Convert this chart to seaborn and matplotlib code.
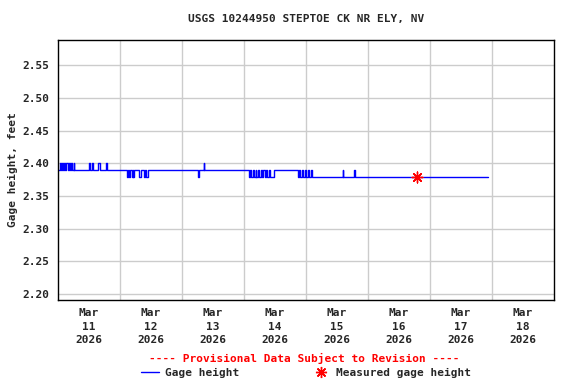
import seaborn as sns
import matplotlib.pyplot as plt
import matplotlib.lines as mlines
import pandas as pd

# gage height readings, hours after 2026-03-11 00:00 (value holds until next change)
hours = [0, 0.8, 1.2, 1.5, 2.0, 2.3, 2.7, 3.1, 3.8, 4.1, 4.6, 5.0, 5.4, 6.0, 6.3,
         12.0, 12.5, 13.0, 13.5, 15.5, 16.3, 18.5, 18.8,
         26.7, 27.0, 27.5, 27.9, 28.6, 28.9, 29.2, 29.5, 31.4, 32.0,
         33.3, 33.7, 34.0, 34.8, 54.1, 54.4, 56.4, 56.7,
         73.9, 74.5, 74.8, 75.5, 75.8, 76.5, 76.8, 77.6, 77.9, 78.6, 79.0,
         79.5, 80.0, 80.5, 81.0, 81.6, 82.0, 83.6,
         92.9, 93.4, 93.8, 94.6, 95.0, 95.6, 96.0, 96.8, 97.2, 97.8, 98.3,
         110.2, 110.5, 114.5, 114.8, 166.3]
height = [2.39, 2.40, 2.39, 2.40, 2.39, 2.40, 2.39, 2.40, 2.39, 2.40, 2.39, 2.40, 2.39, 2.40, 2.39,
          2.40, 2.39, 2.40, 2.39, 2.40, 2.39, 2.40, 2.39,
          2.38, 2.39, 2.38, 2.39, 2.38, 2.39, 2.38, 2.39, 2.38, 2.39,
          2.38, 2.39, 2.38, 2.39, 2.38, 2.39, 2.40, 2.39,
          2.38, 2.39, 2.38, 2.39, 2.38, 2.39, 2.38, 2.39, 2.38, 2.39, 2.38,
          2.39, 2.38, 2.39, 2.38, 2.39, 2.38, 2.39,
          2.38, 2.39, 2.38, 2.39, 2.38, 2.39, 2.38, 2.39, 2.38, 2.39, 2.38,
          2.39, 2.38, 2.39, 2.38, 2.38]

measured_hours = [138.8]
measured_height = [2.38]

day_labels = ['Mar\n11\n2026', 'Mar\n12\n2026', 'Mar\n13\n2026', 'Mar\n14\n2026',
              'Mar\n15\n2026', 'Mar\n16\n2026', 'Mar\n17\n2026', 'Mar\n18\n2026']
y_ticks = [2.20, 2.25, 2.30, 2.35, 2.40, 2.45, 2.50, 2.55]

df = pd.DataFrame({'day': [h / 24 for h in hours], 'gage': height})

sns.set_style('white')
plt.rcParams['font.family'] = ['DejaVu Sans Mono']
plt.rcParams['font.weight'] = 'bold'

fig = plt.figure(figsize=(5.76, 3.84), dpi=100)
ax = fig.add_axes([58 / 576, 1 - 300 / 384, 496 / 576, 260 / 384])

sns.lineplot(data=df, x='day', y='gage', ax=ax, color='#0000ff', linewidth=1,
             drawstyle='steps-post')
ax.scatter([h / 24 for h in measured_hours], measured_height, marker=(8, 2, 0),
           s=60, color='red', linewidths=1, zorder=5)

ax.set_xlim(0, 8)
ax.set_ylim(2.191, 2.589)
ax.set_xticks(range(1, 8))
ax.set_xticks([i + 0.5 for i in range(8)], minor=True)
ax.set_xticklabels([])
ax.set_xticklabels(day_labels, minor=True, fontsize=8, fontweight='bold', linespacing=1.4)
ax.set_yticks(y_ticks)
ax.set_yticklabels(['%.2f' % v for v in y_ticks], fontsize=8, fontweight='bold')
ax.tick_params(axis='both', which='both', length=0, pad=6)
ax.grid(True, which='major', color='#cccccc', linewidth=1)
ax.set_axisbelow(True)
for s in ax.spines.values():
    s.set_color('black')
    s.set_linewidth(1)

ax.set_xlabel('')
ax.set_ylabel('Gage height, feet', fontsize=8, fontweight='bold', labelpad=3)
fig.text(306 / 576, 1 - 19 / 384, 'USGS 10244950 STEPTOE CK NR ELY, NV', ha='center',
         va='center', fontsize=8, fontweight='bold')
fig.text(304 / 576, 1 - 358 / 384, '---- Provisional Data Subject to Revision ----',
         ha='center', va='center', fontsize=8, fontweight='bold', color='red')

h1 = mlines.Line2D([], [], color='#0000ff', linewidth=1)
h2 = mlines.Line2D([], [], color='red', marker=(8, 2, 0), markersize=8, linestyle='none')
fig.legend([h1, h2], ['Gage height', 'Measured gage height'], loc='center',
           bbox_to_anchor=(306 / 576, 1 - 373 / 384), ncol=2, frameon=False,
           handlelength=1.6, columnspacing=6.5, handletextpad=0.6,
           prop={'weight': 'bold', 'size': 8})

fig.savefig('out.png', dpi=100)
